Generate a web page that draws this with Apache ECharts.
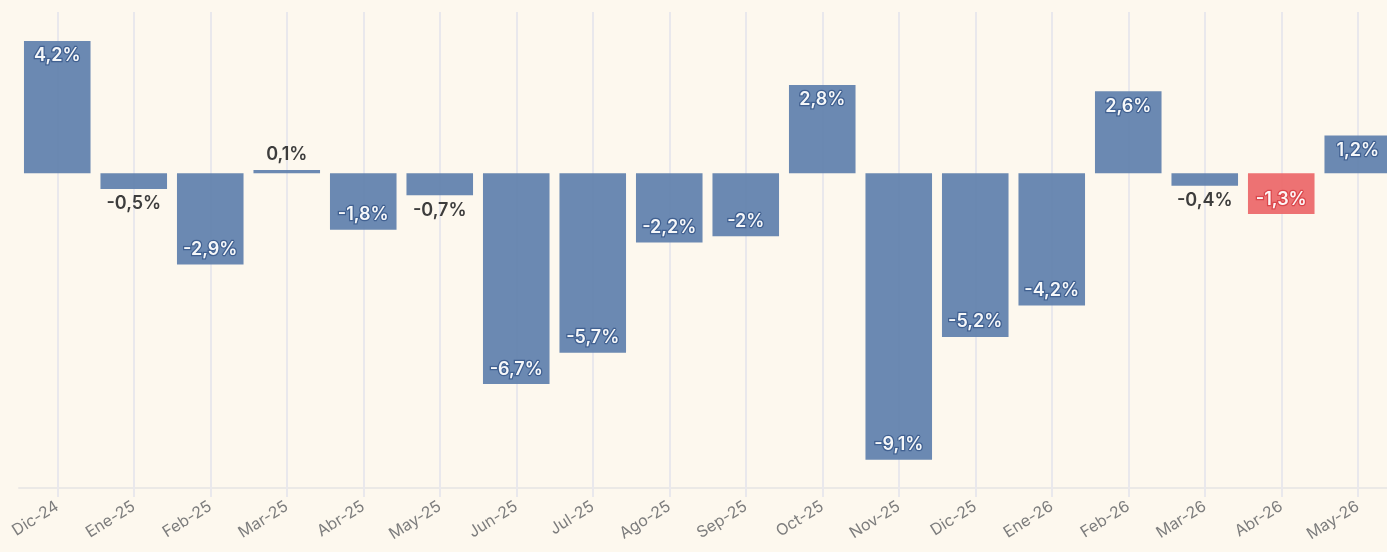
<!DOCTYPE html>
<html><head><meta charset="utf-8">
<script src="https://cdn.jsdelivr.net/npm/echarts@6/dist/echarts.min.js"></script>
<style>html,body{margin:0;padding:0;background:#fdf8ee;overflow:hidden;width:1387px;height:552px;}#c{width:1396px;height:552px;}</style>
</head><body><div id="c"></div>
<script>
const categories = ['Dic-24','Ene-25','Feb-25','Mar-25','Abr-25','May-25','Jun-25','Jul-25','Ago-25','Sep-25','Oct-25','Nov-25','Dic-25','Ene-26','Feb-26','Mar-26','Abr-26','May-26'];
const values = [4.2,-0.5,-2.9,0.1,-1.8,-0.7,-6.7,-5.7,-2.2,-2,2.8,-9.1,-5.2,-4.2,2.6,-0.4,-1.3,1.2];
const highlight = ['Abr-26'];

const BLUE = '#6383ae', RED = '#ec6a6c', BLUE_D = '#3f5f8f', RED_D = '#d9454a';
function fmt(v){ return String(v).replace('.', ',') + '%'; }

const data = values.map((v,i)=>{
  const hl = highlight.includes(categories[i]);
  const inside = Math.abs(v) >= 1;
  return {
    value: v,
    itemStyle: {color: hl ? RED : BLUE, opacity: 0.95},
    label: inside ? {
      show: true,
      position: v >= 0 ? 'insideTop' : 'insideBottom',
      distance: 6,
      color: '#ffffff',
      textBorderColor: hl ? RED_D : BLUE_D,
      textBorderWidth: 2.5
    } : {
      show: true,
      position: v >= 0 ? 'top' : 'bottom',
      distance: 6,
      color: '#333333',
      textBorderWidth: 0
    }
  };
});

const chart = echarts.init(document.getElementById('c'), null, {renderer:'canvas'});
chart.setOption({
  backgroundColor: '#fdf8ee',
  animation: false,
  grid: {left: 19, top: 12, right: 0, height: 476, containLabel: false},
  xAxis: [{
    type: 'category', data: categories, boundaryGap: true, z: 0,
    axisLine: {show: true, onZero: false, lineStyle: {color: '#ebe9e6', width: 2}},
    axisTick: {show: true, alignWithLabel: true, inside: true, length: 476, lineStyle: {color: '#e9e8ec', width: 2}},
    axisLabel: {rotate: 32, color: '#7d7d7d', fontSize: 16, fontFamily: 'Inter', margin: 17},
    splitLine: {show: false}
  },{
    type: 'category', data: categories, boundaryGap: true, position: 'bottom', z: 0,
    axisLine: {show: false, onZero: false},
    axisTick: {show: true, alignWithLabel: true, length: 9, lineStyle: {color: '#e9e8ec', width: 2}},
    axisLabel: {show: false}
  }],
  yAxis: {type: 'value', min: -10, max: 5.12, show: false, splitLine: {show: false}},
  series: [{
    type: 'bar', data: data, barCategoryGap: '13%', z: 2,
    label: {fontSize: 18, fontWeight: 600, fontFamily: 'Inter', formatter: p => fmt(p.value)}
  }]
});
</script></body></html>
